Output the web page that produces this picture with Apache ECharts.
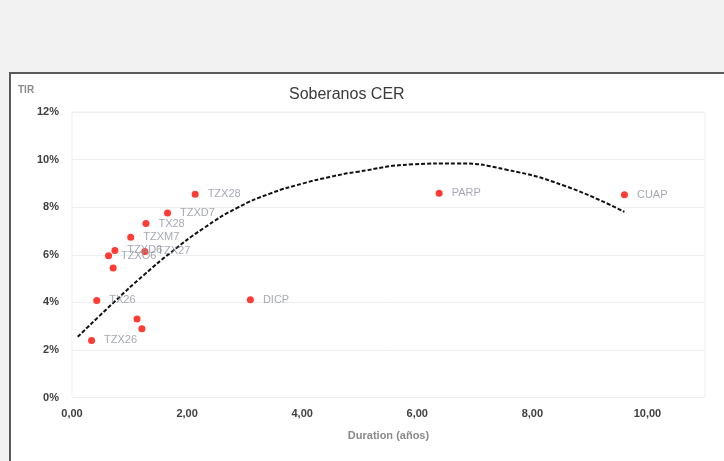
<!DOCTYPE html>
<html>
<head>
<meta charset="utf-8">
<script src="https://cdn.jsdelivr.net/npm/echarts@6/dist/echarts.min.js"></script>
<style>
  html, body { margin: 0; padding: 0; background: #f2f2f2; }
  #frame { position: absolute; left: 9px; top: 72px; width: 740px; height: 420px;
           background: #ffffff; border-top: 2px solid #5b5b5b; border-left: 2px solid #5b5b5b; }
  #main { position: absolute; left: 0; top: 0; width: 724px; height: 461px; }
</style>
</head>
<body>
<div id="frame"></div>
<div id="main"></div>
<script>
// Bond tickers, duration (years) and TIR (%)
var names    = ['TZX26','TX26','TZXO6','','TZXD6','TZXM7','TZX27','TX28','TZXD7','TZX28','','','DICP','PARP','CUAP'];
var duration = [0.34, 0.43, 0.635, 0.715, 0.745, 1.02, 1.265, 1.285, 1.66, 2.14, 1.13, 1.215, 3.10, 6.38, 9.60];
var tir      = [2.40, 4.08, 5.96, 5.44, 6.18, 6.74, 6.14, 7.31, 7.75, 8.54, 3.30, 2.89, 4.11, 8.59, 8.52];

// Trendline
var trendX = [0.10, 0.74, 1.25, 1.71, 2.29, 2.87, 3.44, 4.02, 4.48, 4.94, 5.93, 6.68, 7.54, 8.58, 9.60];
var trendY = [2.55, 4.03, 5.15, 6.08, 7.12, 7.97, 8.57, 9.00, 9.27, 9.48, 9.80, 9.84, 9.58, 8.88, 7.80];

// Tick labels
var xTickLabels = ['0,00','2,00','4,00','6,00','8,00','10,00'];
var yTickLabels = ['0%','2%','4%','6%','8%','10%','12%'];

var font = 'Liberation Sans';
var points = duration.map(function (d, i) { return { value: [d, tir[i]], name: names[i] }; });
var trend = trendX.map(function (x, i) { return [x, trendY[i]]; });

var chart = echarts.init(document.getElementById('main'));
chart.setOption({
  backgroundColor: 'transparent',
  animation: false,
  title: {
    text: 'Soberanos CER',
    left: 284, top: 82,
    textStyle: { fontFamily: font, fontSize: 16, fontWeight: 'normal', color: '#3a3a3a' }
  },
  graphic: [{
    type: 'text', left: 18, top: 85,
    style: { text: 'TIR', fontFamily: font, fontSize: 10, fontWeight: 'bold', fill: '#8a8a8a' }
  }],
  grid: { left: 72, right: 19, top: 112, bottom: 63.5, show: true, borderColor: '#f0f0f0', borderWidth: 1 },
  xAxis: {
    type: 'value', min: 0, max: 11, interval: 2,
    name: 'Duration (años)', nameLocation: 'middle', nameGap: 33,
    nameTextStyle: { fontFamily: font, fontSize: 11, fontWeight: 'bold', color: '#8a8a8a' },
    axisLine: { show: false }, axisTick: { show: false }, splitLine: { show: false },
    axisLabel: {
      showMaxLabel: false, margin: 11,
      fontFamily: font, fontSize: 11, fontWeight: 'bold', color: '#404040',
      formatter: function (v) { var k = Math.round(v / 2); return (v % 2 === 0 && xTickLabels[k]) ? xTickLabels[k] : ''; }
    }
  },
  yAxis: {
    type: 'value', min: 0, max: 12, interval: 2,
    axisLine: { show: false }, axisTick: { show: false },
    splitLine: { lineStyle: { color: '#eeeeee', width: 1 } },
    axisLabel: {
      margin: 13, fontFamily: font, fontSize: 11, fontWeight: 'bold', color: '#404040',
      formatter: function (v) { return yTickLabels[Math.round(v / 2)]; }
    }
  },
  series: [
    {
      type: 'line', data: trend, smooth: 0.5, symbol: 'none', z: 1,
      lineStyle: { color: '#111111', width: 2, type: [4, 2] }
    },
    {
      type: 'scatter', data: points, symbolSize: 7, z: 3,
      itemStyle: { color: '#ff0a00' },
      label: {
        show: true, position: 'right', distance: 9,
        formatter: function (p) { return p.name; },
        fontFamily: font, fontSize: 11, color: '#8e949c'
      }
    }
  ]
});
</script>
</body>
</html>
